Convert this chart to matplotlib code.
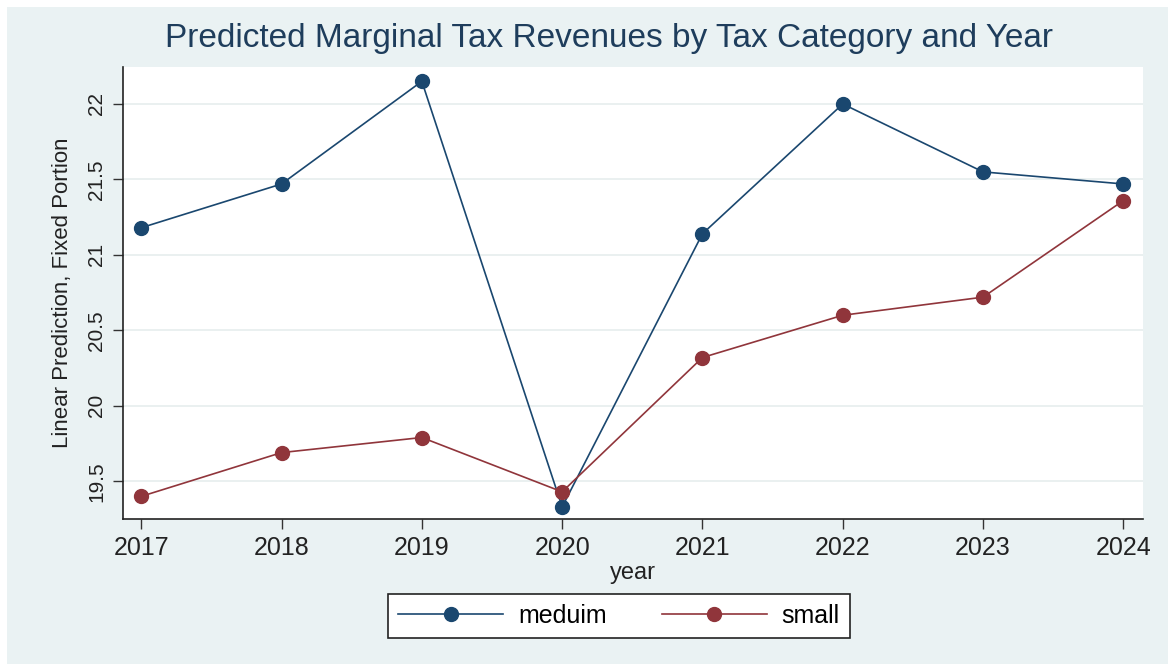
import matplotlib.pyplot as plt
from matplotlib.patches import Rectangle

plt.rcParams['font.family'] = ['Liberation Sans', 'DejaVu Sans']

years = [2017, 2018, 2019, 2020, 2021, 2022, 2023, 2024]
meduim = [21.18, 21.47, 22.15, 19.33, 21.14, 22.00, 21.55, 21.47]
small = [19.40, 19.69, 19.79, 19.43, 20.32, 20.60, 20.72, 21.36]
y_ticks = [19.5, 20, 20.5, 21, 21.5, 22]
y_labels = ["19.5", "20", "20.5", "21", "21.5", "22"]

W, H = 1168, 664
bg = "#EAF2F3"
navy = "#1a476f"
maroon = "#90353b"

fig = plt.figure(figsize=(W / 100, H / 100), dpi=100, facecolor="white")
# light stata-like panel behind everything
fig.patches.append(Rectangle((7 / W, 0), 1 - 7 / W, 1 - 7 / H, transform=fig.transFigure,
                             facecolor=bg, edgecolor="none", zorder=-5))

ax = fig.add_axes([123 / W, 1 - 519 / H, (1143 - 123) / W, (519 - 67) / H])
ax.set_zorder(2)
ax.set_facecolor("white")

ax.plot(years, meduim, color=navy, lw=1.2, marker="o", ms=10, label="meduim", zorder=3)
ax.plot(years, small, color=maroon, lw=1.2, marker="o", ms=10, label="small", zorder=3)

ax.set_xlim(2016.87, 2024.14)
ax.set_ylim(19.25, 22.245)
ax.set_xticks(years)
ax.set_xticklabels([str(y) for y in years], fontsize=18)
ax.set_yticks(y_ticks)
ax.set_yticklabels(y_labels, fontsize=15, rotation=90, va="center")
ax.grid(axis="y", color="#e6eded", lw=1.2)
ax.set_axisbelow(True)

for s in ["top", "right"]:
    ax.spines[s].set_visible(False)
for s in ["left", "bottom"]:
    ax.spines[s].set_color("#222222")
    ax.spines[s].set_linewidth(1.2)
ax.tick_params(axis="both", direction="out", length=7, width=1, color="#333333", labelcolor="#222222")
ax.tick_params(axis="x", pad=5)
ax.tick_params(axis="y", pad=5)

ax.set_xlabel("year", fontsize=17, labelpad=2, color="#222222")
ax.set_ylabel("Linear Prediction, Fixed Portion", fontsize=16, labelpad=10, color="#222222")

fig.text(609 / W, 1 - 38 / H, "Predicted Marginal Tax Revenues by Tax Category and Year",
         ha="center", va="center", fontsize=24, color="#1e3d5c")

leg = fig.legend(loc="center", bbox_to_anchor=(619 / W, 1 - 616 / H), ncol=2,
                 fontsize=18, frameon=True, fancybox=False, framealpha=1,
                 handlelength=4.2, columnspacing=2.2, handletextpad=0.6,
                 borderpad=0.4, borderaxespad=0)
leg.get_frame().set_edgecolor("#222222")
leg.get_frame().set_linewidth(1.2)

fig.savefig("out.png", dpi=100, facecolor=fig.get_facecolor())
